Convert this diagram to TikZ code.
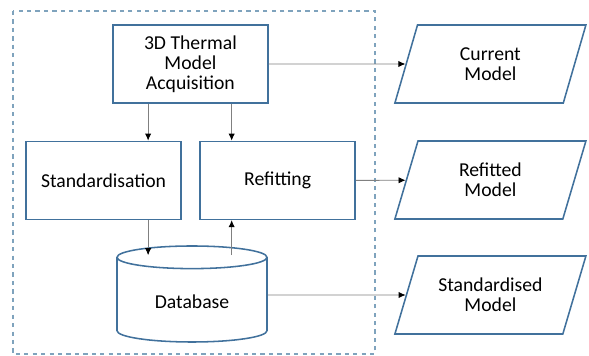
\documentclass[tikz,border=0pt]{standalone}
\usepackage{fontspec}
\setmainfont{Carlito}
\usetikzlibrary{shapes.geometric,arrows.meta}
\definecolor{boxblue}{HTML}{41719C}
\definecolor{framegray}{HTML}{7FA3BD}
\definecolor{linegray}{HTML}{808080}
\begin{document}
\begin{tikzpicture}[
        box/.style={rectangle, draw=boxblue, line width=1.1pt, minimum width=3.875cm, minimum height=1.95cm, align=center, font=\fontsize{14}{14.4}\selectfont},
        dbbox/.style={cylinder, shape border rotate=90, draw=boxblue, line width=1.1pt, minimum width=3.75cm, minimum height=2.4cm, aspect=0.27, align=center, font=\fontsize{14}{14.4}\selectfont},
        outbox/.style={trapezium, trapezium left angle=62, trapezium right angle=118, trapezium stretches body, draw=boxblue, line width=1.1pt, minimum width=4.775cm, minimum height=1.95cm, align=center, font=\fontsize{14}{14.4}\selectfont},
        frame/.style={draw=framegray, dashed, line width=0.8pt},
        arrow/.style={-{Latex[length=5pt,width=4.5pt,black]}, draw=linegray, line width=0.6pt}
    ]
    \useasboundingbox (0,0) rectangle (14.725,-8.9);

    % System boundary
    \draw[frame] (0.325,-0.275) rectangle (9.375,-8.85);

    % Processing steps
    \node[box] (acquisition) at (4.76,-1.6) {3D Thermal\\Model\\Acquisition};
    \node[box] (standard) at (2.59,-4.51) {Standardisation};
    \node[box] (refit) at (6.94,-4.51) {Refitting};
    \node[dbbox] (database) at (4.8,-7.55) {Database};

    % Outputs
    \node[outbox] (current) at (12.26,-1.6) {Current\\Model};
    \node[outbox] (refitted) at (12.26,-4.5) {Refitted\\Model};
    \node[outbox] (standardised) at (12.26,-7.375) {Standardised\\Model};

    % Arrows
    \coordinate (leftcol) at ([xshift=0.9cm]acquisition.south west);
    \coordinate (rightcol) at ([xshift=-0.925cm]acquisition.south east);
    \draw[arrow] (leftcol) -- (leftcol |- standard.north);
    \draw[arrow] (rightcol) -- (rightcol |- refit.north);
    \draw[arrow] (leftcol |- standard.south) -- ([yshift=-0.25cm]leftcol |- database.north);
    \draw[arrow] ([yshift=-0.25cm]rightcol |- database.north) -- (rightcol |- refit.south);
    \draw[arrow] (acquisition.east) -- (current);
    \draw[arrow] (refit.east) -- (refitted);
    \draw[arrow] (database.east |- standardised) -- (standardised);

    \end{tikzpicture}
\end{document}
